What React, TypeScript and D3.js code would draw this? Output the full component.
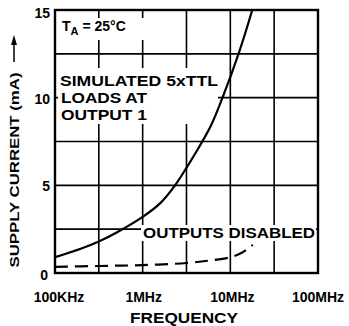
import * as d3 from "d3";

const freqTicks = [1e5, 1e6, 1e7, 1e8];
const freqLabels = ["100KHz", "1MHz", "10MHz", "100MHz"];
const currentTicks = [0, 5, 10, 15];
const currentGrid = [2.5, 5, 7.5, 10, 12.5];
const freqGrid = [3.16e5, 1e6, 3.16e6, 1e7, 3.16e7];

// 5xTTL loads at output 1
const loadedFreq = [1e5, 2e5, 3.16e5, 5e5, 1e6, 1.6e6, 2.34e6, 3.16e6, 4.3e6, 6e6, 8e6, 1.26e7, 1.78e7];
const loadedCurrent = [0.9, 1.4, 1.8, 2.3, 3.2, 4.0, 5.0, 6.0, 7.1, 8.4, 9.9, 12.6, 15.0];

// outputs disabled
const disabledFreq = [1e5, 3.16e5, 1e6, 3.16e6, 6e6, 1e7, 1.35e7, 1.8e7];
const disabledCurrent = [0.35, 0.4, 0.45, 0.57, 0.72, 0.9, 1.15, 1.6];

export default function App() {
  const width = 349;
  const height = 326;
  const left = 55, right = 318, top = 10, bottom = 273;
  const x = d3.scaleLog([1e5, 1e8], [left, right]);
  const y = d3.scaleLinear([0, 15], [bottom, top]);
  const line = d3.line<[number, number]>((d) => x(d[0]), (d) => y(d[1])).curve(d3.curveCatmullRom.alpha(0.5));
  const loaded = d3.zip(loadedFreq, loadedCurrent) as [number, number][];
  const disabled = d3.zip(disabledFreq, disabledCurrent) as [number, number][];
  const font = "'Liberation Sans', Arial, sans-serif";
  const fit = { lengthAdjust: "spacingAndGlyphs" as const };
  // small nudges so the tick labels sit where the printed ones do
  const labelShift = [4, 1, 2, 0];

  return (
    <svg width={width} height={height} style={{ position: "absolute", left: 0, top: 0, background: "white" }}
      fontFamily={font} fontWeight="bold">
      <defs>
        <clipPath id="plot">
          <rect x={left} y={top} width={right - left} height={bottom - top} />
        </clipPath>
      </defs>
      <g stroke="black" strokeWidth={1.6}>
        {freqGrid.map((f) => (
          <line key={f} x1={x(f)} x2={x(f)} y1={top} y2={bottom} />
        ))}
        {currentGrid.map((c) => (
          <line key={c} x1={left} x2={right} y1={y(c)} y2={y(c)} />
        ))}
      </g>
      <g fill="black" fontSize={14}>
        <rect x={59} y={18} width={86} height={22} fill="white" />
        <text x={62} y={31}>
          T<tspan fontSize={11} dy={4}>A</tspan><tspan dy={-4}> = 25°C</tspan>
        </text>
        <rect x={58} y={68} width={160} height={56} fill="white" />
        <text x={60} y={86} textLength={158} {...fit}>SIMULATED 5xTTL</text>
        <text x={61} y={103} textLength={86} {...fit}>LOADS AT</text>
        <text x={61} y={120} textLength={86} {...fit}>OUTPUT 1</text>
        <rect x={141} y={225} width={175} height={16} fill="white" />
        <text x={143} y={238} textLength={172} {...fit}>OUTPUTS DISABLED</text>
      </g>
      <g clipPath="url(#plot)" fill="none" stroke="black" strokeWidth={2.2}>
        <path d={line(loaded) || ""} />
        <path d={line(disabled) || ""} strokeDasharray="13,7" />
      </g>
      <rect x={left} y={top} width={right - left} height={bottom - top} fill="none" stroke="black" strokeWidth={2.4} />
      <g fontSize={14} textAnchor="end">
        {currentTicks.map((c) => (
          <text key={c} x={c === 0 ? 48 : 50} y={y(c) + (c === 0 ? 7 : c === 15 ? 8 : 6)}>{c}</text>
        ))}
      </g>
      <g fontSize={14} textAnchor="middle">
        {freqTicks.map((f, i) => (
          <text key={f} x={x(f) + labelShift[i]} y={302}>{freqLabels[i]}</text>
        ))}
        <text x={184} y={323} textLength={108} {...fit}>FREQUENCY</text>
      </g>
      <text transform="translate(19,170) rotate(-90)" textAnchor="middle" fontSize={13.5}
        textLength={195} {...fit}>SUPPLY CURRENT (mA)</text>
      <g stroke="black" strokeWidth={1.5}>
        <line x1={14} x2={14} y1={62} y2={42} />
      </g>
      <path d="M14,35 L11,45 L17,45 Z" fill="black" />
    </svg>
  );
}
